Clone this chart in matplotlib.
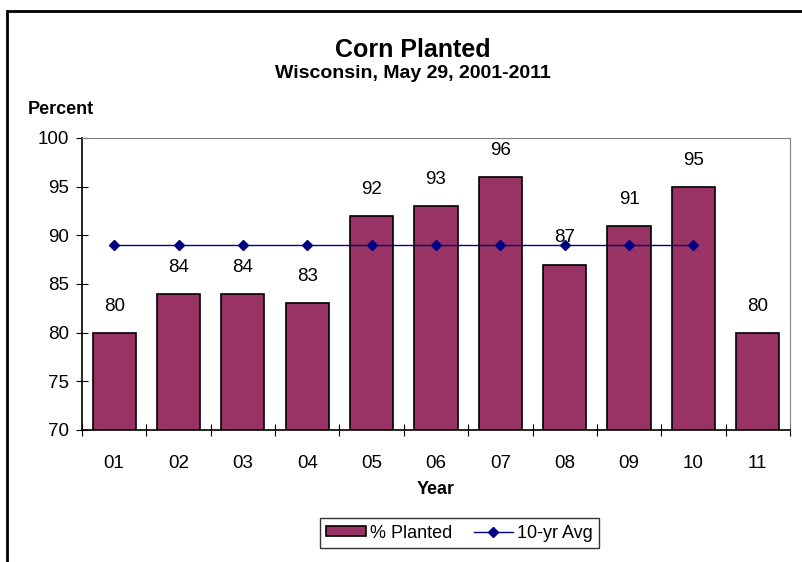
import matplotlib
matplotlib.use("Agg")
import matplotlib.pyplot as plt
from matplotlib.patches import Rectangle
import numpy as np

plt.rcParams['font.family'] = ['Liberation Sans', 'DejaVu Sans']

years = ['01', '02', '03', '04', '05', '06', '07', '08', '09', '10', '11']
planted = [80, 84, 84, 83, 92, 93, 96, 87, 91, 95, 80]
avg_10yr = [89, 89, 89, 89, 89, 89, 89, 89, 89, 89]

fig = plt.figure(figsize=(8.02, 5.62), dpi=100)
ax = fig.add_axes([0.1022, 0.2349, 0.8828, 0.5196])

x = np.arange(len(years))
ax.bar(x, planted, width=0.67, color='#993366', edgecolor='black',
       linewidth=1.2, label='% Planted', zorder=2)
ax.plot(x[:len(avg_10yr)], avg_10yr, color='#000080', linewidth=1,
        marker='D', markersize=5, label='10-yr Avg', zorder=3)

# labels above bars
for xi, v in zip(x, planted):
    ax.annotate(str(v), (xi, v), xytext=(0, 13), textcoords='offset points',
                ha='center', va='bottom', fontsize=13.5)

ax.set_xlim(-0.5, len(years) - 0.5)
ax.set_ylim(70, 100)
ax.set_yticks(range(70, 101, 5))
ax.tick_params(axis='y', direction='inout', length=8, labelsize=13.5, pad=5)

# ticks between categories, labels centered
ax.set_xticks(np.arange(-0.5, len(years), 1))
ax.set_xticklabels([])
ax.set_xticks(x, minor=True)
ax.set_xticklabels(years, minor=True)
ax.tick_params(axis='x', which='major', direction='inout', length=8)
ax.tick_params(axis='x', which='minor', length=0, labelsize=13.5, pad=18)

for s in ['top', 'right']:
    ax.spines[s].set_color('#808080')
ax.spines['left'].set_linewidth(1.2)
ax.spines['bottom'].set_linewidth(1.2)

fig.text(0.5436, 0.129, 'Year', fontsize=13, fontweight='bold',
         ha='center', va='center')
fig.text(0.034, 0.805, 'Percent', fontsize=13, fontweight='bold', va='center')

fig.text(0.515, 0.8986, 'Corn Planted', fontsize=18, fontweight='bold',
         ha='center', va='baseline')
fig.text(0.515, 0.8612, 'Wisconsin, May 29, 2001-2011', fontsize=14,
         fontweight='bold', ha='center', va='baseline')

handles, labels = ax.get_legend_handles_labels()
order = [labels.index('% Planted'), labels.index('10-yr Avg')]
leg = fig.legend([handles[i] for i in order], [labels[i] for i in order],
                 loc='center', bbox_to_anchor=(0.573, 0.0516), ncol=2,
                 frameon=True, fancybox=False, edgecolor='black',
                 fontsize=13, handlelength=2.2, handleheight=0.5,
                 columnspacing=1.2, borderpad=0.35, handletextpad=0.2)
leg.get_frame().set_linewidth(1)

# outer chart border
fig.add_artist(Rectangle((7 / 802, -0.5), 2, 1.5 - 11 / 562,
                         transform=fig.transFigure, fill=False,
                         edgecolor='black', linewidth=2))

fig.savefig('out.png', dpi=100)
